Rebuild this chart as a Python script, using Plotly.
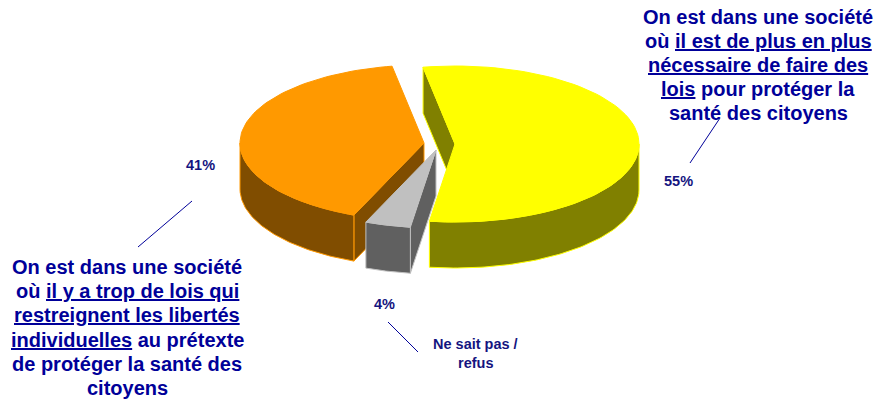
import numpy as np
import plotly.graph_objects as go

# ---- data ----
slice_names = ["Plus de lois nécessaires", "Ne sait pas / refus", "Trop de lois"]
slice_values = [55, 4, 41]
pct_labels = ["55%", "4%", "41%"]
top_colors = ["#FFFF00", "#C0C0C0", "#FF9900"]
side_colors = ["#808000", "#606060", "#804D00"]

lines_right = ["On est dans une société", "où <u>il est de plus en plus</u>",
               "<u>nécessaire de faire des</u>", "<u>lois</u> pour protéger la",
               "santé des citoyens"]
lines_left = ["On est dans une société", "où <u>il y a trop de lois qui</u>",
              "<u>restreignent les libertés</u>", "<u>individuelles</u> au prétexte",
              "de protéger la santé des", "citoyens"]
lines_small = ["Ne sait pas /", "refus"]

# ---- 3D pie geometry (pixel-like axis units) ----
A, B, DEPTH = 184, 78, 46
START = 100.0
CENTERS = [(455, 144), (436, 150), (424, 143)]
INK = "#000099"
LABEL_INK = "#14147F"


def arc(c, t0, t1, dy=0, n=80):
    t = np.radians(np.linspace(t0, t1, n))
    return c[0] + A * np.cos(t), c[1] - B * np.sin(t) + dy


def poly(xs, ys, fill, line, name):
    return go.Scatter(x=np.concatenate(xs), y=np.concatenate(ys), mode="lines",
                      fill="toself", fillcolor=fill, line=dict(color=line, width=1),
                      name=name, hoverinfo="name", showlegend=False)


def radial_wall(c, t, fill, line, name):
    x, y = arc(c, t, t, n=1)
    return poly([[x[0], c[0], c[0], x[0], x[0]]],
                [[y[0], c[1], c[1] + DEPTH, y[0] + DEPTH, y[0]]], fill, line, name)


def outer_wall(c, t0, t1, fill, line, name):
    x, y = arc(c, t0, t1)
    x2, y2 = arc(c, t1, t0, DEPTH)
    return poly([x, x2, x[:1]], [y, y2, y[:1]], fill, line, name)


def top(c, t0, t1, fill, line, name):
    x, y = arc(c, t0, t1)
    return poly([[c[0]], x, [c[0]]], [[c[1]], y, [c[1]]], fill, line, name)


sweeps = [v / sum(slice_values) * 360 for v in slice_values]
edges = [START]
for s in sweeps:
    edges.append(edges[-1] - s)   # clockwise

fig = go.Figure()

# yellow slice
c = CENTERS[0]
fig.add_trace(radial_wall(c, edges[0], side_colors[0], top_colors[0], slice_names[0]))
fig.add_trace(outer_wall(c, 0, edges[1], side_colors[0], top_colors[0], slice_names[0]))
fig.add_trace(top(c, edges[0], edges[1], top_colors[0], top_colors[0], slice_names[0]))

# orange slice
c = CENTERS[2]
fig.add_trace(radial_wall(c, edges[2], side_colors[2], top_colors[2], slice_names[2]))
fig.add_trace(outer_wall(c, -180, edges[2], side_colors[2], top_colors[2], slice_names[2]))
fig.add_trace(top(c, edges[2], edges[3], top_colors[2], top_colors[2], slice_names[2]))

# grey slice
c = CENTERS[1]
fig.add_trace(radial_wall(c, edges[1], side_colors[1], top_colors[1], slice_names[1]))
fig.add_trace(outer_wall(c, edges[1], edges[2], side_colors[1], top_colors[1], slice_names[1]))
fig.add_trace(top(c, edges[1], edges[2], top_colors[1], top_colors[1], slice_names[1]))

# leader lines
for (x0, y0, x1, y1) in [(138, 247, 192, 201), (720, 118, 690, 163), (388, 322, 418, 352)]:
    fig.add_shape(type="line", xref="x", yref="y", x0=x0, y0=y0, x1=x1, y1=y1,
                  line=dict(color=INK, width=1))

FONT = "Liberation Sans, Arial, sans-serif"


def note(x, y, text, size, color):
    fig.add_annotation(x=x, y=y, xref="x", yref="y", text=f"<b>{text}</b>", showarrow=False,
                       xanchor="center", yanchor="middle", align="center",
                       font=dict(family=FONT, size=size, color=color))


for i, line in enumerate(lines_right):
    note(758, 17 + 24 * i, line, 20, INK)
for i, line in enumerate(lines_left):
    note(127, 267 + 24.2 * i, line, 20, INK)
for i, line in enumerate(lines_small):
    note(475.5, 344 + 19 * i, line, 14.5, LABEL_INK)
note(678.5, 181, pct_labels[0], 14.5, LABEL_INK)
note(384.5, 304, pct_labels[1], 14.5, LABEL_INK)
note(200, 165, pct_labels[2], 14.5, LABEL_INK)

fig.update_layout(
    width=878, height=400, margin=dict(l=0, r=0, t=0, b=0),
    paper_bgcolor="white", plot_bgcolor="white", showlegend=False,
    xaxis=dict(range=[0, 878], visible=False, fixedrange=True),
    yaxis=dict(range=[400, 0], visible=False, fixedrange=True),
)
fig.write_html("out.html", config={"displayModeBar": False},
               post_script="document.body.style.margin='0';document.body.style.overflow='hidden';")
